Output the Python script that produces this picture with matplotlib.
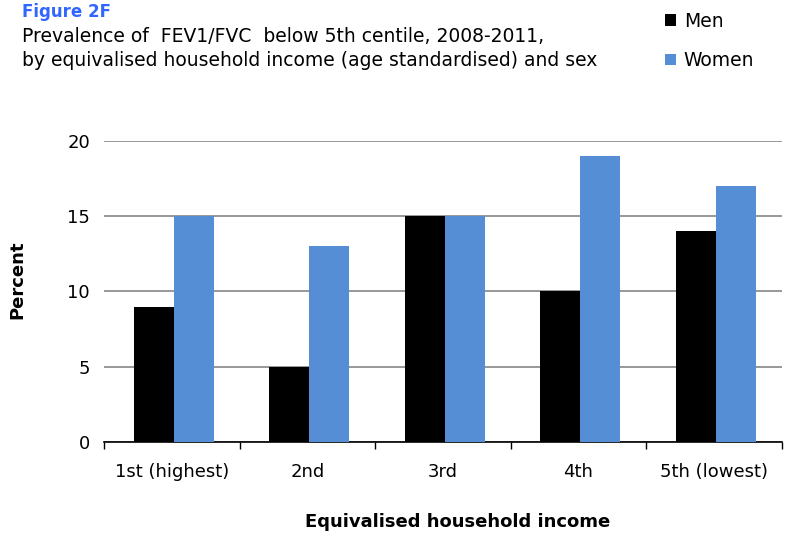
import matplotlib.pyplot as plt
import numpy as np

categories = ["1st (highest)", "2nd", "3rd", "4th", "5th (lowest)"]
men = [9, 5, 15, 10, 14]
women = [15, 13, 15, 19, 17]
yticks = [0, 5, 10, 15, 20]

men_colour = "#000000"
women_colour = "#558ED5"

plt.rcParams['font.family'] = 'DejaVu Sans'

fig = plt.figure(figsize=(7.92, 5.36), dpi=100)
ax = fig.add_axes([0.1313, 0.1754, 0.8557, 0.5616])

x = np.arange(len(categories))
w = 0.295
shift = 0.015
ax.bar(x - w / 2 + shift, men, w, color=men_colour, zorder=3, label="Men")
ax.bar(x + w / 2 + shift, women, w, color=women_colour, zorder=3, label="Women")

ax.set_xlim(-0.5, len(categories) - 0.5)
ax.set_ylim(0, 20)
ax.set_yticks(yticks)
ax.yaxis.grid(True, color="#868686", linewidth=1.2, zorder=0)
ax.tick_params(axis="y", length=0, labelsize=13, pad=10)

# category boundary ticks on the x axis
ax.set_xticks(x)
ax.set_xticklabels(categories, fontsize=13)
ax.tick_params(axis="x", length=0, pad=15)
ax.set_xticks(np.arange(len(categories) + 1) - 0.5, minor=True)
ax.tick_params(axis="x", which="minor", length=5, width=1, color="black")

for side in ["top", "right", "left"]:
    ax.spines[side].set_visible(False)
ax.spines["bottom"].set_color("black")
ax.spines["bottom"].set_linewidth(1.2)

ax.set_ylabel("Percent", fontsize=13, fontweight="bold")
ax.set_xlabel("Equivalised household income", fontsize=13, fontweight="bold")
ax.yaxis.set_label_coords(-0.114, 0.538)
ax.xaxis.set_label_coords(0.522, -0.235)

fig.text(22 / 792, 1 - 12 / 536, "Figure 2F", color="#3366FF", fontsize=12,
         fontweight="bold", va="center")
fig.text(22 / 792, 1 - 37 / 536, "Prevalence of  FEV1/FVC  below 5th centile, 2008-2011,",
         fontsize=13.5, va="center")
fig.text(22 / 792, 1 - 61 / 536, "by equivalised household income (age standardised) and sex",
         fontsize=13.5, va="center")

ax.legend(loc="upper left", bbox_to_anchor=(648 / 792, 1.01), bbox_transform=fig.transFigure,
          frameon=False, fontsize=13.5, handlelength=0.6, handleheight=0.6,
          handletextpad=0.4, labelspacing=1.1)

fig.savefig("out.png", dpi=100)
